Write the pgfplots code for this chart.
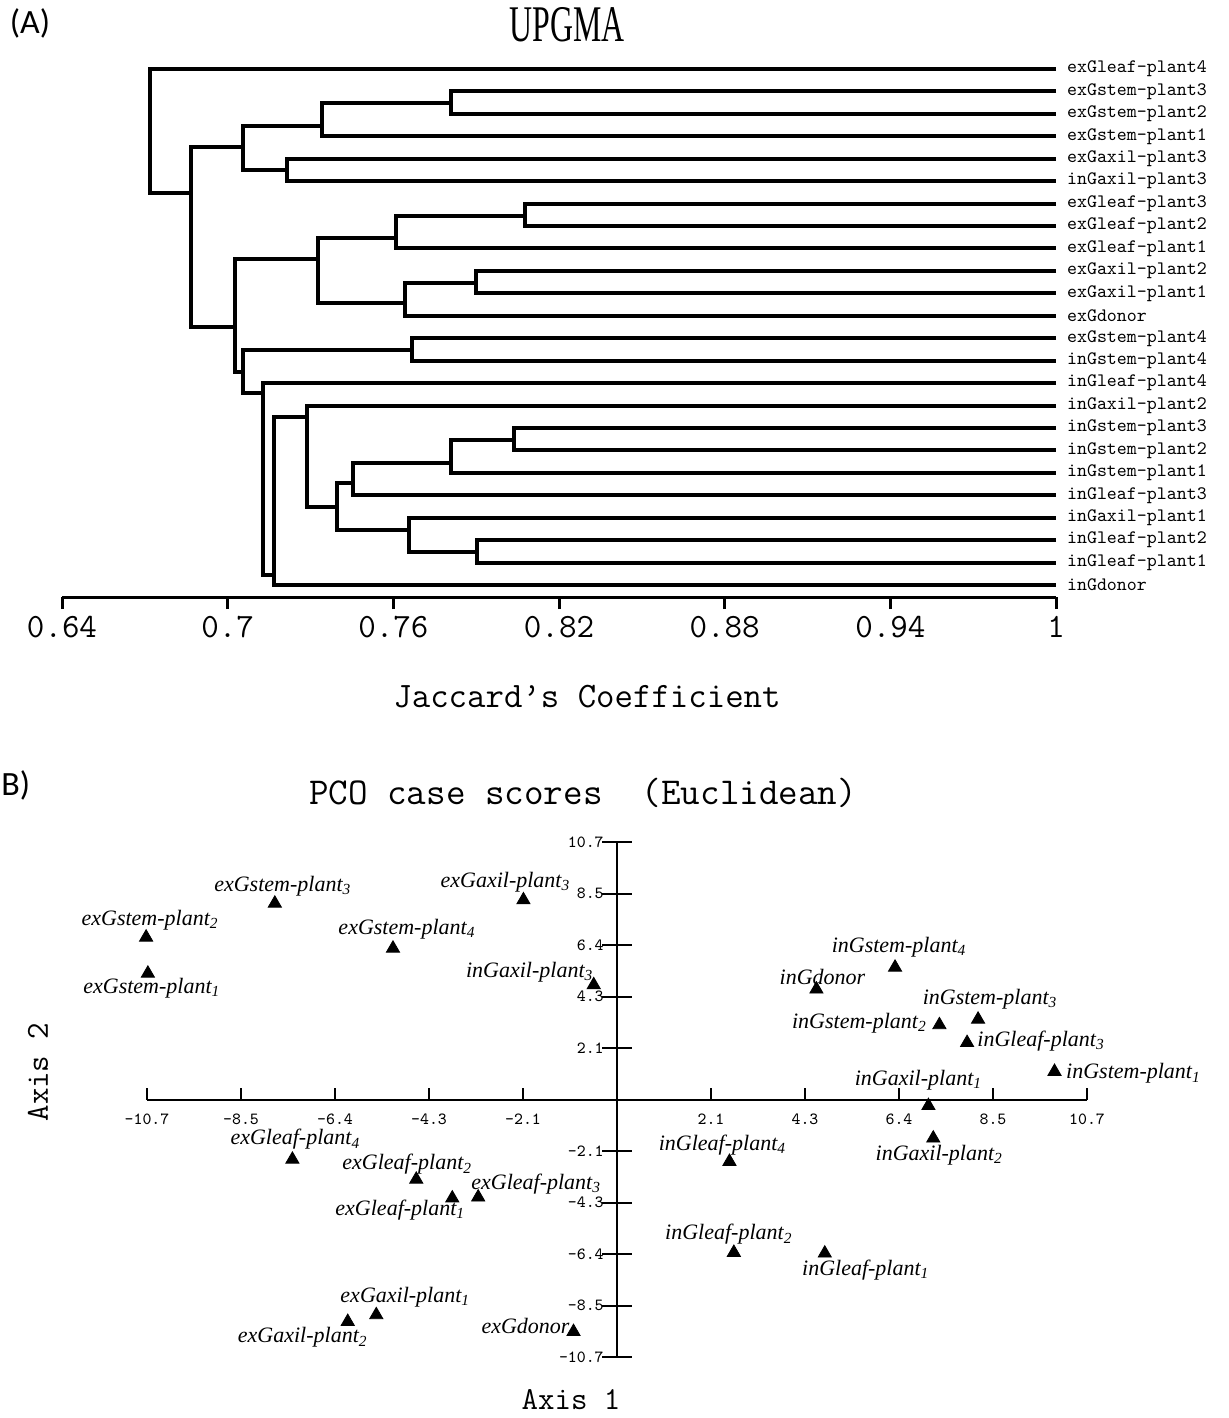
\documentclass[border=0pt]{standalone}
\usepackage{fontspec}
\usepackage{graphicx}
\usepackage{pgfplots}
\pgfplotsset{compat=1.18}
\newfontfamily\serifit{Liberation Serif}
\newfontfamily\capfont{Carlito}
\pgfplotsset{tree/.style={black, solid, no markers, line width=2pt, line join=miter}}

\begin{document}
\begin{tikzpicture}
\path[use as bounding box] (0,0) rectangle (614pt,-709pt);

% ---------- (A) UPGMA dendrogram ----------
\node[font=\capfont\fontsize{17}{20}\selectfont] at (15pt,-11.5pt) {(A)};
\node at (283.5pt,-12.5pt) {\scalebox{0.62}[1]{\serifit\fontsize{25.7}{30}\selectfont UPGMA}};

\begin{axis}[
  at={(31pt,-298.5pt)}, anchor=south west,
  scale only axis, width=497pt, height=269.6pt,
  xmin=0.64, xmax=1, ymin=-0.535, ymax=23.5,
  clip=false,
  axis x line*=bottom, axis y line*=right,
  y axis line style={draw=none},
  x axis line style={line width=1.5pt},
  xtick={0.64,0.7,0.76,0.82,0.88,0.94,1},
  xticklabels={0.64,0.7,0.76,0.82,0.88,0.94,1},
  xtick align=outside, major tick length=6pt,
  xtick style={line width=1.5pt, black},
  xticklabel style={font=\ttfamily\fontsize{17}{20}\selectfont},
  ytick={0,...,23},
  yticklabels={inGdonor,inGleaf-plant1,inGleaf-plant2,inGaxil-plant1,inGleaf-plant3,
    inGstem-plant1,inGstem-plant2,inGstem-plant3,inGaxil-plant2,inGleaf-plant4,
    inGstem-plant4,exGstem-plant4,exGdonor,exGaxil-plant1,exGaxil-plant2,
    exGleaf-plant1,exGleaf-plant2,exGleaf-plant3,inGaxil-plant3,exGaxil-plant3,
    exGstem-plant1,exGstem-plant2,exGstem-plant3,exGleaf-plant4},
  ytick style={draw=none},
  yticklabel style={font=\ttfamily\fontsize{9.5}{10}\selectfont, anchor=west, xshift=2pt},
]
% each node: (child top) -- (height, top) -- (height, bottom) -- (child bottom)
\addplot[tree] coordinates {(1,23) (0.6719,23) (0.6719,17.47) (0.6867,17.47)};
\addplot[tree] coordinates {(0.7056,19.52) (0.6867,19.52) (0.6867,11.52) (0.7027,11.52)};
\addplot[tree] coordinates {(0.7342,20.46) (0.7056,20.46) (0.7056,18.52) (0.7215,18.52)};
\addplot[tree] coordinates {(0.7809,21.48) (0.7342,21.48) (0.7342,20) (1,20)};
\addplot[tree] coordinates {(1,22) (0.7809,22) (0.7809,21) (1,21)};
\addplot[tree] coordinates {(1,19) (0.7215,19) (0.7215,18) (1,18)};
\addplot[tree] coordinates {(0.7327,14.53) (0.7027,14.53) (0.7027,9.5) (0.7056,9.5)};
\addplot[tree] coordinates {(0.7610,15.47) (0.7327,15.47) (0.7327,12.57) (0.7644,12.57)};
\addplot[tree] coordinates {(0.8077,16.45) (0.7610,16.45) (0.7610,15) (1,15)};
\addplot[tree] coordinates {(1,17) (0.8077,17) (0.8077,16) (1,16)};
\addplot[tree] coordinates {(0.7899,13.46) (0.7644,13.46) (0.7644,12) (1,12)};
\addplot[tree] coordinates {(1,14) (0.7899,14) (0.7899,13) (1,13)};
\addplot[tree] coordinates {(0.7668,10.48) (0.7056,10.48) (0.7056,8.54) (0.7128,8.54)};
\addplot[tree] coordinates {(1,11) (0.7668,11) (0.7668,10) (1,10)};
\addplot[tree] coordinates {(1,9) (0.7128,9) (0.7128,0.45) (0.7168,0.45)};
\addplot[tree] coordinates {(0.7287,7.49) (0.7168,7.49) (0.7168,0) (1,0)};
\addplot[tree] coordinates {(1,8) (0.7287,8) (0.7287,3.48) (0.7396,3.48)};
\addplot[tree] coordinates {(0.7453,4.55) (0.7396,4.55) (0.7396,2.45) (0.7656,2.45)};
\addplot[tree] coordinates {(0.7809,5.44) (0.7453,5.44) (0.7453,4) (1,4)};
\addplot[tree] coordinates {(0.8036,6.46) (0.7809,6.46) (0.7809,5) (1,5)};
\addplot[tree] coordinates {(1,7) (0.8036,7) (0.8036,6) (1,6)};
\addplot[tree] coordinates {(1,3) (0.7656,3) (0.7656,1.47) (0.7903,1.47)};
\addplot[tree] coordinates {(1,2) (0.7903,2) (0.7903,1) (1,1)};
\end{axis}
\node[font=\ttfamily\fontsize{17.9}{20}\selectfont] at (293.5pt,-348.5pt) {Jaccard’s Coefficient};

% ---------- (B) PCO scatter ----------
\node[font=\capfont\fontsize{17}{20}\selectfont, anchor=west, inner sep=0pt] at (0.5pt,-392.5pt) {B)};
\node[anchor=west, font=\ttfamily\fontsize{19}{22}\selectfont] at (151pt,-396.5pt) {PCO case scores\ \ (Euclidean)};

\begin{axis}[
  at={(73.5pt,-678.5pt)}, anchor=south west,
  scale only axis, width=470pt, height=257.5pt,
  xmin=-10.7, xmax=10.7, ymin=-10.7, ymax=10.7,
  axis lines*=middle, clip=false,
  axis line style={line width=1pt, black},
  xtick={-10.7,-8.56,-6.42,-4.28,-2.14,2.14,4.28,6.42,8.56,10.7},
  xticklabels={-10.7,-8.5,-6.4,-4.3,-2.1,2.1,4.3,6.4,8.5,10.7},
  ytick={-10.7,-8.56,-6.42,-4.28,-2.14,2.14,4.28,6.42,8.56,10.7},
  yticklabels={-10.7,-8.5,-6.4,-4.3,-2.1,2.1,4.3,6.4,8.5,10.7},
  xtick align=inside, ytick align=center,
  xtick style={black, line width=1pt, /pgfplots/major tick length=6pt},
  ytick style={black, line width=1pt, /pgfplots/major tick length=15pt},
  ticklabel style={font=\ttfamily\fontsize{8.5}{9}\selectfont},
  xticklabel style={yshift=-3.5pt},
  yticklabel style={xshift=-1pt},
]
\addplot[only marks, mark=triangle*, mark size=3.8pt, black,
  nodes near coords, point meta=explicit symbolic,
  visualization depends on={value \thisrow{dx}\as\dx},
  visualization depends on={value \thisrow{dy}\as\dy},
  every node near coord/.append style={anchor=center, inner sep=0pt,
    xshift=\dx pt, yshift=\dy pt, font=\serifit\itshape\fontsize{11}{12}\selectfont}]
table[meta=label]{
x y dx dy label
-7.79 8.15 4 8.5 exGstem-plant\textsubscript{3}
-10.72 6.74 2 8.5 exGstem-plant\textsubscript{2}
-10.68 5.24 2 -7.5 exGstem-plant\textsubscript{1}
-2.13 8.29 -9 9 exGaxil-plant\textsubscript{3}
-5.10 6.28 7 9.5 exGstem-plant\textsubscript{4}
-0.53 4.76 -32 6.5 inGaxil-plant\textsubscript{3}
6.33 5.49 2 10 inGstem-plant\textsubscript{4}
4.54 4.58 3 6 inGdonor
8.22 3.33 6 10 inGstem-plant\textsubscript{3}
7.34 3.10 -40 1 inGstem-plant\textsubscript{2}
7.97 2.36 37 1 inGleaf-plant\textsubscript{3}
9.96 1.16 39.5 -1 inGstem-plant\textsubscript{1}
7.09 -0.26 -5 13 inGaxil-plant\textsubscript{1}
7.20 -1.61 3 -8.5 inGaxil-plant\textsubscript{2}
2.56 -2.58 -3.5 8.5 inGleaf-plant\textsubscript{4}
2.66 -6.36 -2.5 9 inGleaf-plant\textsubscript{2}
4.73 -6.39 20.5 -8.5 inGleaf-plant\textsubscript{1}
-7.39 -2.49 1.5 10 exGleaf-plant\textsubscript{4}
-4.57 -3.32 -4.5 7.5 exGleaf-plant\textsubscript{2}
-3.75 -4.10 -26 -6 exGleaf-plant\textsubscript{1}
-3.16 -4.06 29 6.5 exGleaf-plant\textsubscript{3}
-5.48 -8.95 14.5 9 exGaxil-plant\textsubscript{1}
-6.13 -9.23 -22.5 -8 exGaxil-plant\textsubscript{2}
-0.99 -9.65 -24 3 exGdonor
};
\end{axis}
\node[font=\ttfamily\fontsize{16}{18}\selectfont] at (285.5pt,-700pt) {Axis 1};
\node[font=\ttfamily\fontsize{16}{18}\selectfont, rotate=90] at (19pt,-536pt) {Axis 2};
\end{tikzpicture}
\end{document}
